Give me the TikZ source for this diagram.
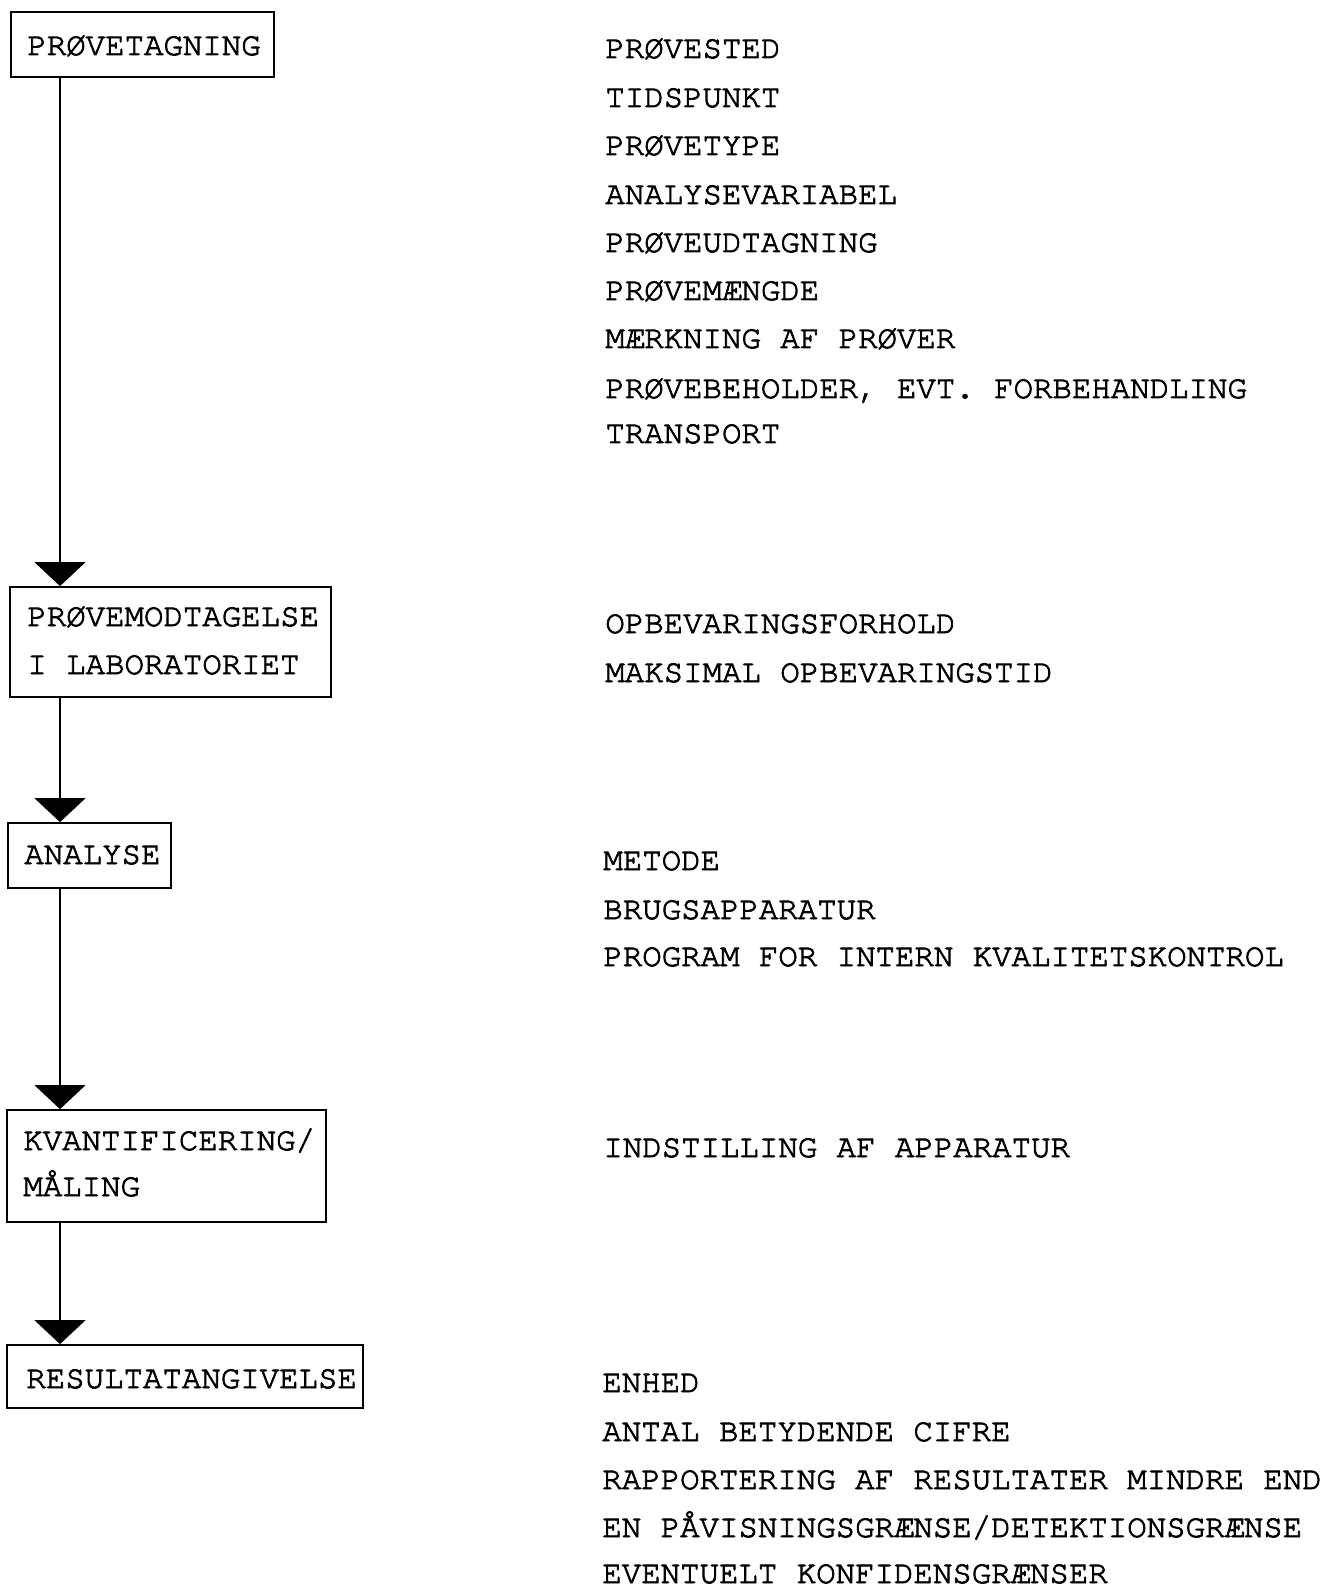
\documentclass[tikz,border=0pt]{standalone}
\usepackage{fontspec}
\setmonofont[FakeBold=2.5]{texgyrecursor-regular.otf}
\usetikzlibrary{arrows.meta}
\begin{document}
\begin{tikzpicture}[x=0.5pt,y=-0.5pt,
  boxnode/.style 2 args={draw, rectangle, line width=0.9pt, inner sep=0pt,
    minimum width=#1*0.5pt, minimum height=#2*0.5pt},
  lbl/.style={anchor=base west, inner sep=0pt, font=\ttfamily\fontsize{16.2}{20}\selectfont},
  flow/.style={line width=0.75pt, -{Triangle[width=25.5pt,length=12pt]}}]
\useasboundingbox (0,0) rectangle (1333,1588);
% boxes
\node[boxnode={263}{65}]  (b1) at (142.5,44.5) {};
\node[boxnode={321}{110}] (b2) at (170.5,642) {};
\node[boxnode={163}{65}]  (b3) at (89.5,855.5) {};
\node[boxnode={319}{112}] (b4) at (166.5,1166) {};
\node[boxnode={356}{63}]  (b5) at (185,1376.5) {};
% box texts
\node[lbl] (t1)  at (27,55)   {PRØVETAGNING};
\node[lbl] (t2a) at (27,626)  {PRØVEMODTAGELSE};
\node[lbl] (t2b) at (27,674)  {I LABORATORIET};
\node[lbl] (t3)  at (24,864)  {ANALYSE};
\node[lbl] (t4a) at (23,1150) {KVANTIFICERING/};
\node[lbl] (t4b) at (23,1196) {MÅLING};
\node[lbl] (t5)  at (26,1388) {RESULTATANGIVELSE};
% connectors
\coordinate (ax) at (60,0);
\draw[flow] (b1.south -| ax) -- (b2.north -| ax);
\draw[flow] (b2.south -| ax) -- (b3.north -| ax);
\draw[flow] (b3.south -| ax) -- (b4.north -| ax);
\draw[flow] (b4.south -| ax) -- (b5.north -| ax);
% right column
\node[lbl] (r1)  at (605,58)   {PRØVESTED};
\node[lbl] (r2)  at (605,107)  {TIDSPUNKT};
\node[lbl] (r3)  at (605,155)  {PRØVETYPE};
\node[lbl] (r4)  at (605,204)  {ANALYSEVARIABEL};
\node[lbl] (r5)  at (605,252)  {PRØVEUDTAGNING};
\node[lbl] (r6)  at (605,300)  {PRØVEMÆNGDE};
\node[lbl] (r7)  at (605,348)  {MÆRKNING AF PRØVER};
\node[lbl] (r8)  at (605,398)  {PRØVEBEHOLDER, EVT. FORBEHANDLING};
\node[lbl] (r9)  at (605,443)  {TRANSPORT};
\node[lbl] (r10) at (605,633)  {OPBEVARINGSFORHOLD};
\node[lbl] (r11) at (605,682)  {MAKSIMAL OPBEVARINGSTID};
\node[lbl] (r12) at (603,870)  {METODE};
\node[lbl] (r13) at (603,919)  {BRUGSAPPARATUR};
\node[lbl] (r14) at (603,966)  {PROGRAM FOR INTERN KVALITETSKONTROL};
\node[lbl] (r15) at (603,1157) {INDSTILLING AF APPARATUR};
\node[lbl] (r16) at (602,1392) {ENHED};
\node[lbl] (r17) at (602,1441) {ANTAL BETYDENDE CIFRE};
\node[lbl] (r18) at (602,1489) {RAPPORTERING AF RESULTATER MINDRE END};
\node[lbl] (r19) at (602,1537) {EN PÅVISNINGSGRÆNSE/DETEKTIONSGRÆNSE};
\node[lbl] (r20) at (602,1583) {EVENTUELT KONFIDENSGRÆNSER};
\end{tikzpicture}
\end{document}
